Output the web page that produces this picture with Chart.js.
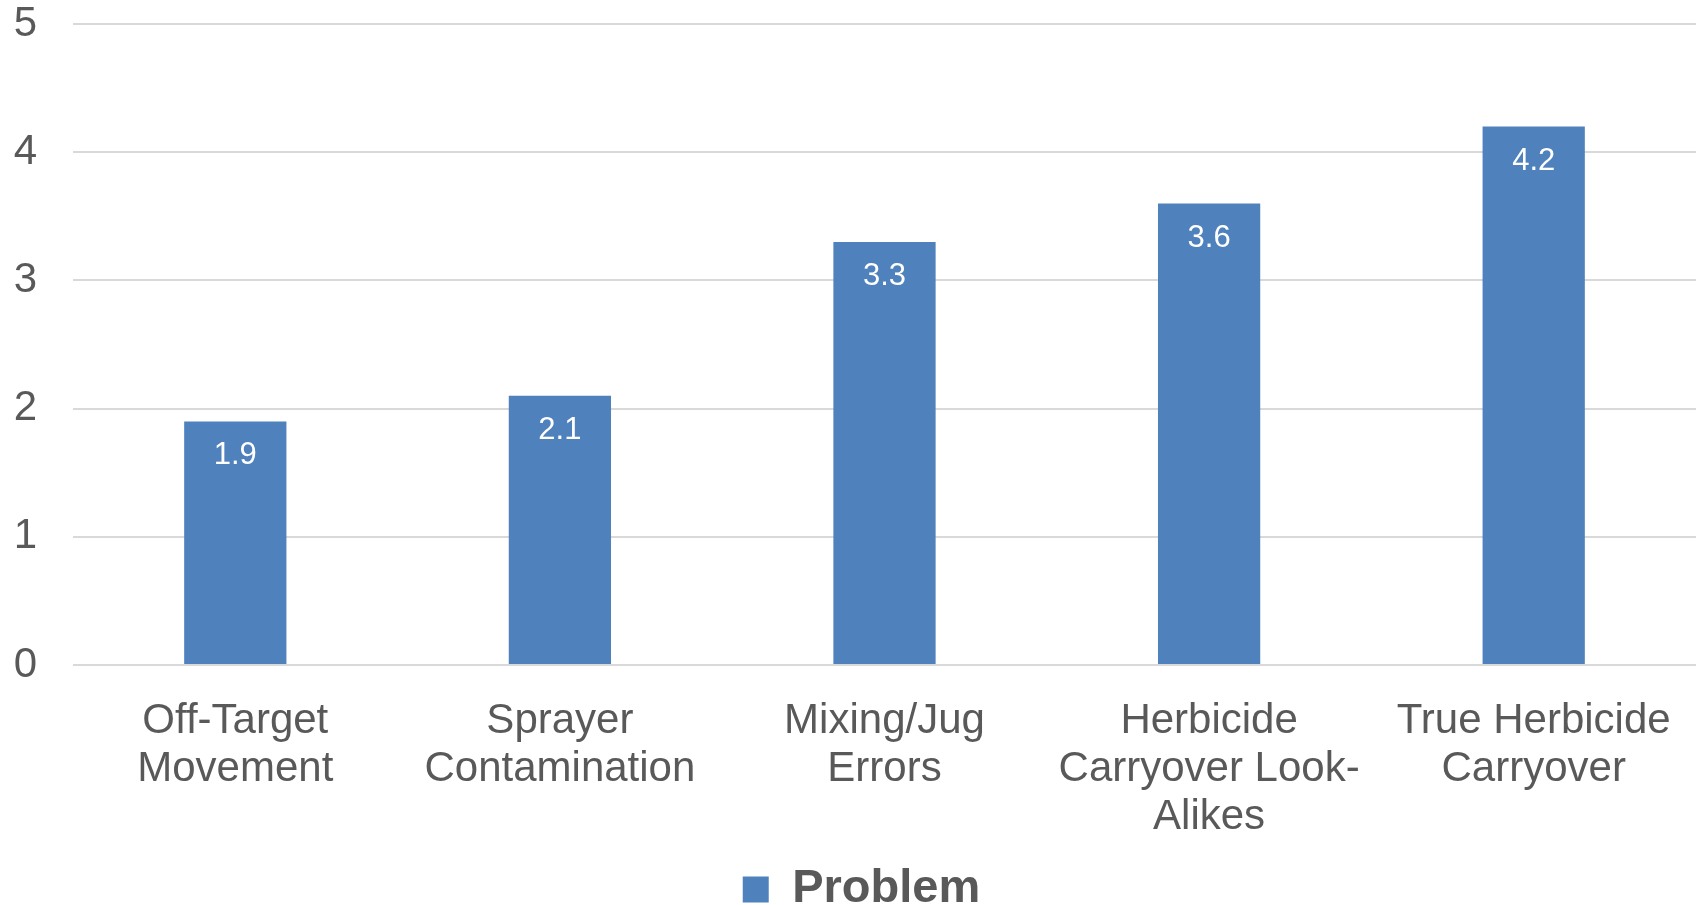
<!DOCTYPE html>
<html>
<head>
<meta charset="utf-8">
<script src="https://cdn.jsdelivr.net/npm/chart.js@4/dist/chart.umd.min.js"></script>
<style>
  html, body { margin: 0; padding: 0; background: #fff; }
  #wrap { width: 1698px; height: 905px; }
</style>
</head>
<body>
<div id="wrap"><canvas id="chart" width="1698" height="905"></canvas></div>
<script>
const categories = [
  ['Off-Target', 'Movement'],
  ['Sprayer', 'Contamination'],
  ['Mixing/Jug', 'Errors'],
  ['Herbicide', 'Carryover Look-', 'Alikes'],
  ['True Herbicide', 'Carryover']
];
const problemValues = [1.9, 2.1, 3.3, 3.6, 4.2];
const yTicks = [0, 1, 2, 3, 4, 5];

const TEXT = '#595959';
const BAR = '#4F81BD';

// draws the value just inside the top of each bar
const barLabels = {
  id: 'barLabels',
  afterDatasetsDraw(chart) {
    const ctx = chart.ctx;
    const meta = chart.getDatasetMeta(0);
    ctx.save();
    ctx.fillStyle = '#ffffff';
    ctx.font = '31px "Liberation Sans", Arial, sans-serif';
    ctx.textAlign = 'center';
    ctx.textBaseline = 'alphabetic';
    meta.data.forEach((bar, i) => {
      ctx.fillText(problemValues[i].toFixed(1), bar.x, bar.y + 43);
    });
    ctx.restore();
  }
};

// the legend sits a bit right of centre in the original
const nudgeLegend = {
  id: 'nudgeLegend',
  afterLayout(chart) {
    if (chart.legend) {
      chart.legend.left += 8;
      chart.legend.right += 8;
    }
  }
};

Chart.defaults.font.family = '"Liberation Sans", Arial, sans-serif';
Chart.defaults.color = TEXT;

new Chart(document.getElementById('chart'), {
  type: 'bar',
  data: {
    labels: categories,
    datasets: [{
      label: 'Problem',
      data: problemValues,
      backgroundColor: BAR,
      categoryPercentage: 1,
      barPercentage: 0.315
    }]
  },
  options: {
    responsive: false,
    animation: false,
    layout: { padding: { left: 11, right: 2, top: 0, bottom: -18 } },
    scales: {
      x: {
        grid: { display: false },
        border: { display: false },
        ticks: {
          font: { size: 42, lineHeight: 1.15 },
          color: TEXT,
          padding: 24,
          maxRotation: 0,
          autoSkip: false
        }
      },
      y: {
        min: 0,
        max: 5,
        afterBuildTicks(axis) { axis.ticks = yTicks.map(v => ({ value: v })); },
        afterFit(axis) {
          axis.width = 62;
          axis.paddingTop = 24;
          axis.paddingBottom = 20;
        },
        grid: { color: '#D9D9D9', lineWidth: 2, drawTicks: false },
        border: { display: false },
        ticks: {
          font: { size: 42 },
          color: TEXT,
          padding: 36
        }
      }
    },
    plugins: {
      tooltip: { enabled: false },
      legend: {
        position: 'bottom',
        labels: {
          boxWidth: 26,
          boxHeight: 26,
          color: TEXT,
          font: { size: 47, weight: 'bold' },
          padding: 0
        }
      }
    }
  },
  plugins: [barLabels, nudgeLegend]
});
</script>
</body>
</html>
